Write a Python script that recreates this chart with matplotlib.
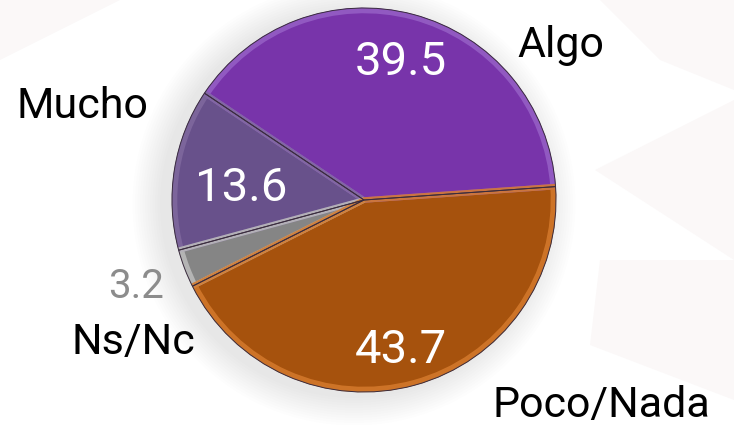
import matplotlib.pyplot as plt
from matplotlib.patches import Circle, Polygon

# data
categories = ['Algo', 'Mucho', 'Ns/Nc', 'Poco/Nada']
values = [39.5, 13.6, 3.2, 43.7]
value_labels = ['39.5', '13.6', '3.2', '43.7']

colors = ['#7834aa', '#68518b', '#858585', '#a6520d']
bevel = ['#9660c6', '#80699f', '#bdbdbd', '#d57a2c']
value_colors = ['white', 'white', '#8c8c8c', 'white']

# layout (pixel coords, y from top) -> baselines for text
W, H = 734, 425
cx, cy, R = 364, 200, 192
value_pos = [(401, 75), (241, 201), (136, 298), (401, 363)]
label_pos = [(561, 57), (82, 118), (133, 354), (601, 417)]

plt.rcParams['font.family'] = ['Roboto', 'DejaVu Sans']

fig = plt.figure(figsize=(W / 100, H / 100), dpi=100)
ax = fig.add_axes([0, 0, 1, 1])

# faint background facets
bg = [
    [(600, 0), (734, 0), (734, 90), (660, 60)],
    [(595, 170), (734, 100), (734, 260)],
    [(600, 260), (734, 260), (734, 400), (590, 345)],
    [(0, 0), (120, 0), (0, 60)],
]
for pts in bg:
    ax.add_patch(Polygon([(x, H - y) for x, y in pts], closed=True,
                         facecolor='#fbf8f8', edgecolor='none', zorder=0))

# soft shadow behind the pie
for i in range(12):
    ax.add_patch(Circle((cx - 10, H - cy - 4), R + 2 + i * 2.5,
                        facecolor='#000000', edgecolor='none', alpha=0.006, zorder=1))

wedges, _ = ax.pie(values, colors=colors, startangle=4, counterclock=True,
                   center=(cx, H - cy), radius=R,
                   wedgeprops=dict(edgecolor='none', linewidth=0))
for w in wedges:
    w.set_zorder(2)

# bevelled rim: light band along each wedge edge
rim, _ = ax.pie(values, colors=['none'] * 4, startangle=4, counterclock=True,
                center=(cx, H - cy), radius=R - 2.5,
                wedgeprops=dict(linewidth=4))
for w, b in zip(rim, bevel):
    w.set_edgecolor(b)
    w.set_facecolor('none')
    w.set_joinstyle('miter')
    w.set_alpha(0.85)
    w.set_zorder(3)

outline, _ = ax.pie(values, colors=['none'] * 4, startangle=4, counterclock=True,
                    center=(cx, H - cy), radius=R,
                    wedgeprops=dict(linewidth=0.7))
for w in outline:
    w.set_edgecolor('#3a2c3e')
    w.set_facecolor('none')
    w.set_zorder(4)

for txt, (x, y), c in zip(value_labels, value_pos, value_colors):
    size = 29 if c != 'white' else 34
    ax.text(x, H - y, txt, ha='center', va='baseline', fontsize=size, color=c, zorder=5)

for txt, (x, y) in zip(categories, label_pos):
    ax.text(x, H - y, txt, ha='center', va='baseline', fontsize=31, color='black', zorder=5)

ax.set_xlim(0, W)
ax.set_ylim(0, H)
ax.set_aspect('equal')
ax.axis('off')

fig.savefig('out.png', dpi=100, facecolor='white')
